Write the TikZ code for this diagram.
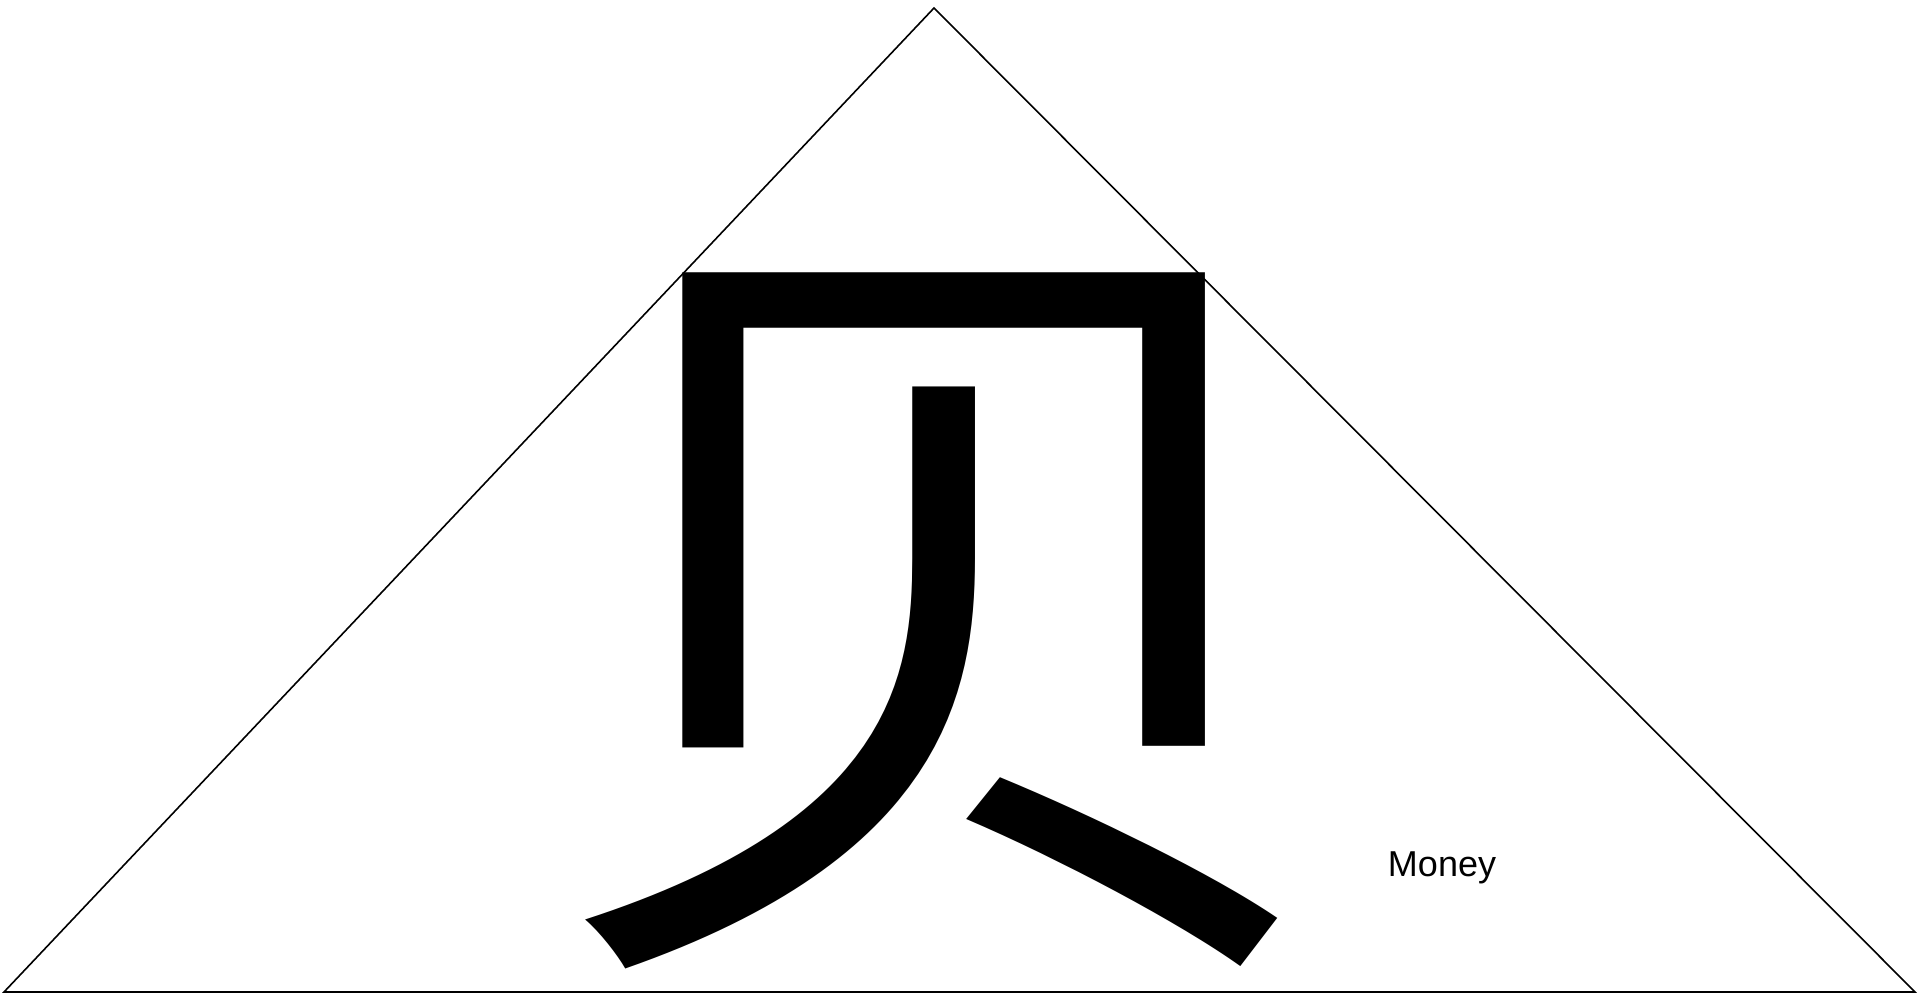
\documentclass[tikz,border=0pt]{standalone}
\usepackage{fontspec}
\setmainfont{Liberation Sans}
\newfontfamily\cjk{Noto Sans CJK SC}
\usetikzlibrary{positioning}

\begin{document}
\begin{tikzpicture}[
    x=0.5pt, y=-0.5pt,
    frame/.style={draw=black, line width=0.8pt, line join=miter},
    glyph/.style={inner sep=0pt, font=\cjk\fontsize{402}{402}\selectfont},
    caption/.style={inner sep=0pt, font=\fontsize{18}{18}\selectfont},
]
\useasboundingbox (0,0) rectangle (1920,994);

\coordinate (apex) at (934,8);
\coordinate (left) at (4,992);
\coordinate (right) at (1915,992);
\draw[frame] (left) -- (apex) -- (right) -- cycle;

\node[glyph, anchor=base] (sign) at (942,905) {贝};
\node[caption, anchor=base] (money) at (1442,876) {Money};

\end{tikzpicture}
\end{document}
